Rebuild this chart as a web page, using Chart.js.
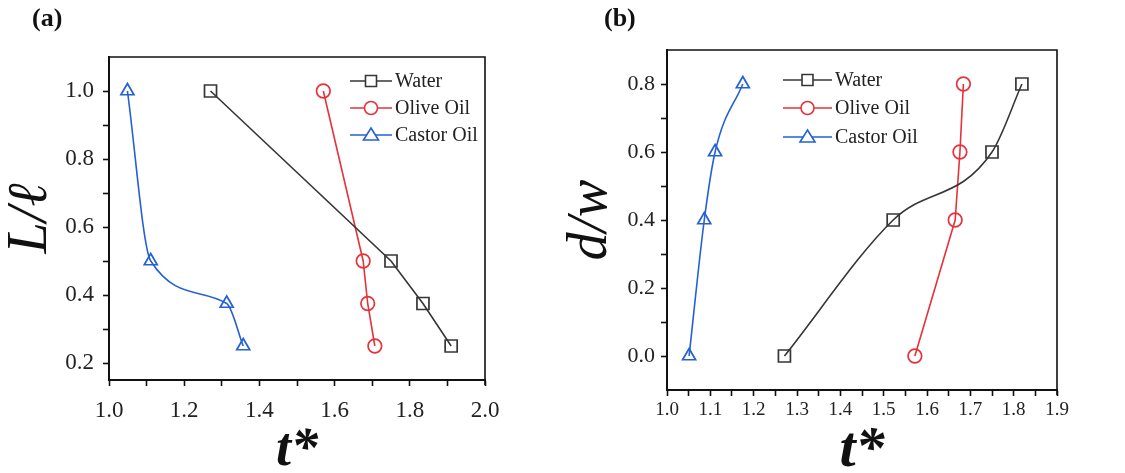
<!DOCTYPE html>
<html lang="en">
<head>
<meta charset="UTF-8">
<title>t* charts</title>
<style>
  html, body {
    margin: 0;
    padding: 0;
    background: #fff;
    font-family: 'Liberation Serif', serif;
  }
  .wrap {
    position: relative;
    width: 1125px;
    height: 473px;
  }
  .panel {
    position: absolute;
    top: 0;
  }
  .tag {
    position: absolute;
    top: 3px;
    font-size: 26px;
    font-weight: bold;
    color: #111;
  }
</style>
<script src="https://cdn.jsdelivr.net/npm/chart.js"></script>
</head>
<body>
<div class="wrap">
  <div class="panel" style="left:0;"><canvas id="chartA" width="560" height="473"></canvas></div>
  <div class="panel" style="left:560px;"><canvas id="chartB" width="565" height="473"></canvas></div>
  <div class="tag" style="left:32px;">(a)</div>
  <div class="tag" style="left:604px;">(b)</div>
</div>

<script>
// ---- panel (a): L/l vs t* ----
const aWaterX  = [1.27, 1.75, 1.835, 1.91];
const aWaterY  = [1.0, 0.5, 0.375, 0.25];
const aOliveX  = [1.57, 1.676, 1.688, 1.707];
const aOliveY  = [1.0, 0.5, 0.375, 0.25];
const aCastorX = [1.049, 1.111, 1.313, 1.357];
const aCastorY = [1.0, 0.5, 0.375, 0.25];
const aTicksX  = [1.0, 1.1, 1.2, 1.3, 1.4, 1.5, 1.6, 1.7, 1.8, 1.9, 2.0];
const aTicksY  = [0.2, 0.3, 0.4, 0.5, 0.6, 0.7, 0.8, 0.9, 1.0];

// ---- panel (b): d/w vs t* ----
const bWaterX  = [1.271, 1.522, 1.75, 1.819];
const bWaterY  = [0.0, 0.4, 0.6, 0.8];
const bOliveX  = [1.572, 1.665, 1.676, 1.684];
const bOliveY  = [0.0, 0.4, 0.6, 0.8];
const bCastorX = [1.051, 1.086, 1.111, 1.175];
const bCastorY = [0.0, 0.4, 0.6, 0.8];
const bTicksX  = [1.0, 1.05, 1.1, 1.15, 1.2, 1.25, 1.3, 1.35, 1.4, 1.45, 1.5, 1.55, 1.6, 1.65, 1.7, 1.75, 1.8, 1.85, 1.9];
const bTicksY  = [0.0, 0.1, 0.2, 0.3, 0.4, 0.5, 0.6, 0.7, 0.8];

const seriesNames = ['Water', 'Olive Oil', 'Castor Oil'];

const WATER = '#363636';
const OLIVE = '#e5333b';
const CASTOR = '#2560d4';

function pts(xs, ys) {
  return xs.map((x, i) => ({ x: x, y: ys[i] }));
}

function makeSet(name, xs, ys, color, style, smooth) {
  const radius = { rect: 8.5, circle: 6.8, triangle: 7.5 }[style];
  return {
    label: name,
    data: pts(xs, ys),
    borderColor: color,
    backgroundColor: 'rgba(255,255,255,0)',
    borderWidth: 1.6,
    pointStyle: style,
    pointRadius: radius,
    pointBorderWidth: 1.7,
    pointBorderColor: color,
    pointBackgroundColor: 'rgba(255,255,255,0)',
    cubicInterpolationMode: smooth ? 'monotone' : 'default',
    tension: 0,
    fill: false
  };
}

// draws top/right frame and the in-plot legend
const framePlugin = {
  id: 'frameLegend',
  afterDraw(chart, args, opts) {
    const ctx = chart.ctx;
    const a = chart.chartArea;
    ctx.save();
    ctx.strokeStyle = '#111';
    ctx.lineWidth = 1.6;
    ctx.beginPath();
    ctx.moveTo(a.left, a.top);
    ctx.lineTo(a.right, a.top);
    ctx.lineTo(a.right, a.bottom + 5);
    ctx.stroke();

    const lg = opts.legend;
    ctx.font = lg.fontSize + 'px "Liberation Serif"';
    ctx.textBaseline = 'middle';
    chart.data.datasets.forEach((ds, i) => {
      const y = lg.rows[i];
      ctx.strokeStyle = ds.borderColor;
      ctx.lineWidth = 1.5;
      ctx.beginPath();
      ctx.moveTo(lg.x0, y);
      ctx.lineTo(lg.x1, y);
      ctx.stroke();
      const cx = (lg.x0 + lg.x1) / 2;
      ctx.fillStyle = '#fff';
      ctx.lineWidth = 1.6;
      ctx.beginPath();
      if (ds.pointStyle === 'rect') {
        ctx.rect(cx - 5.5, y - 5.5, 11, 11);
      } else if (ds.pointStyle === 'circle') {
        ctx.arc(cx, y, 6.5, 0, Math.PI * 2);
      } else {
        ctx.moveTo(cx, y - 7);
        ctx.lineTo(cx + 7.5, y + 5);
        ctx.lineTo(cx - 7.5, y + 5);
        ctx.closePath();
      }
      ctx.fill();
      ctx.stroke();
      ctx.fillStyle = '#222';
      ctx.fillText(ds.label, lg.x1 + 3, y + 1);
    });
    ctx.restore();
  }
};

function axisOpts(cfg) {
  return {
    type: 'linear',
    position: cfg.position,
    min: cfg.min,
    max: cfg.max,
    afterBuildTicks: (axis) => {
      axis.ticks = cfg.ticks.map(v => ({ value: v }));
    },
    afterFit: (axis) => {
      if (cfg.position === 'left') axis.width = cfg.size;
      else axis.height = cfg.size;
    },
    border: { color: '#111', width: 2 },
    grid: {
      drawOnChartArea: false,
      drawTicks: true,
      tickLength: 6,
      tickWidth: 1.6,
      tickColor: '#111'
    },
    ticks: {
      autoSkip: false,
      maxRotation: 0,
      padding: cfg.pad,
      color: '#222',
      font: { family: 'Liberation Serif', size: cfg.tickSize },
      callback: (v) => cfg.isMajor(v) ? v.toFixed(1) : ''
    },
    title: {
      display: true,
      text: cfg.title,
      color: '#111',
      padding: 0,
      font: { family: 'Liberation Serif', size: cfg.titleSize, style: 'italic', weight: cfg.titleWeight, lineHeight: cfg.titleLH }
    }
  };
}

const evenTenth = (v) => Math.round(v * 10) % 2 === 0;
const wholeTenth = (v) => Math.abs(v * 10 - Math.round(v * 10)) < 1e-6;

new Chart(document.getElementById('chartA'), {
  type: 'line',
  data: {
    datasets: [
      makeSet(seriesNames[0], aWaterX, aWaterY, WATER, 'rect', false),
      makeSet(seriesNames[1], aOliveX, aOliveY, OLIVE, 'circle', false),
      makeSet(seriesNames[2], aCastorX, aCastorY, CASTOR, 'triangle', true)
    ]
  },
  options: {
    responsive: false,
    animation: false,
    layout: { padding: { top: 57, right: 75, left: 0, bottom: 0 } },
    scales: {
      x: axisOpts({ position: 'bottom', min: 1.0, max: 2.0, ticks: aTicksX, size: 93, pad: 11,
                    tickSize: 23, isMajor: evenTenth, title: 't*', titleSize: 54, titleWeight: 'bold', titleLH: 0.8 }),
      y: axisOpts({ position: 'left', min: 0.15, max: 1.1, ticks: aTicksY, size: 109, pad: 9,
                    tickSize: 23, isMajor: evenTenth, title: 'L/ℓ', titleSize: 56, titleWeight: 'normal', titleLH: 1.1 })
    },
    plugins: {
      legend: { display: false },
      tooltip: { enabled: false },
      frameLegend: { legend: { x0: 350, x1: 392, rows: [81, 108, 135], fontSize: 20 } }
    }
  },
  plugins: [framePlugin]
});

new Chart(document.getElementById('chartB'), {
  type: 'line',
  data: {
    datasets: [
      makeSet(seriesNames[0], bWaterX, bWaterY, WATER, 'rect', true),
      makeSet(seriesNames[1], bOliveX, bOliveY, OLIVE, 'circle', false),
      makeSet(seriesNames[2], bCastorX, bCastorY, CASTOR, 'triangle', true)
    ]
  },
  options: {
    responsive: false,
    animation: false,
    layout: { padding: { top: 50, right: 68, left: 0, bottom: 0 } },
    scales: {
      x: axisOpts({ position: 'bottom', min: 1.0, max: 1.9, ticks: bTicksX, size: 83, pad: 3,
                    tickSize: 19, isMajor: wholeTenth, title: 't*', titleSize: 58, titleWeight: 'bold', titleLH: 0.75 }),
      y: axisOpts({ position: 'left', min: -0.1, max: 0.9, ticks: bTicksY, size: 107, pad: 6,
                    tickSize: 22, isMajor: evenTenth, title: 'd/w', titleSize: 56, titleWeight: 'normal', titleLH: 1.1 })
    },
    plugins: {
      legend: { display: false },
      tooltip: { enabled: false },
      frameLegend: { legend: { x0: 223, x1: 272, rows: [80, 108, 137], fontSize: 20 } }
    }
  },
  plugins: [framePlugin]
});
</script>
</body>
</html>
